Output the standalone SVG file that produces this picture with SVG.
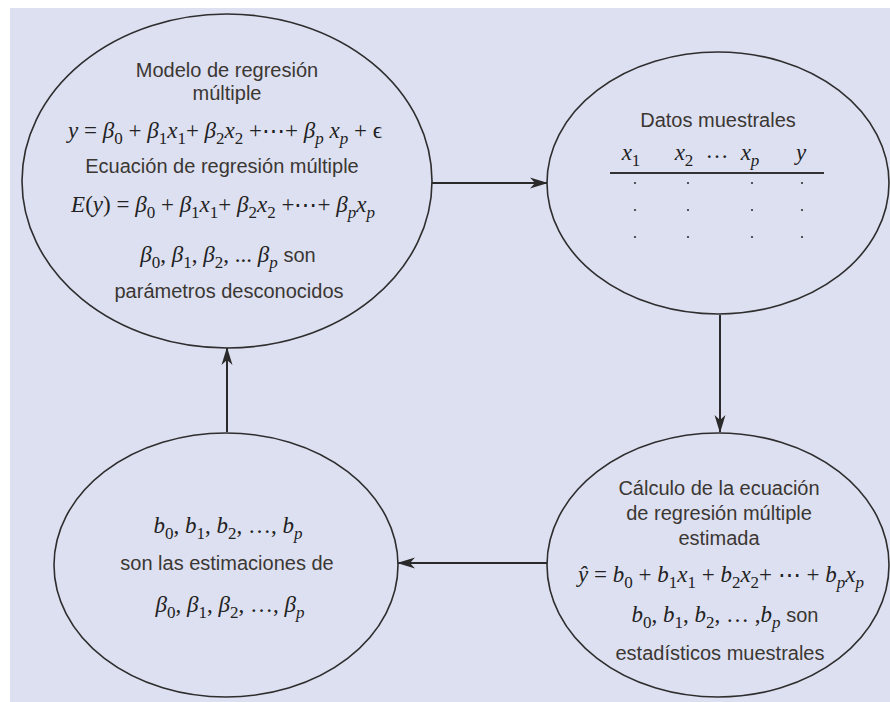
<svg xmlns="http://www.w3.org/2000/svg" width="890" height="702" viewBox="0 0 890 702">
<defs>
<marker id="arr" viewBox="0 0 18 12" refX="17" refY="6" markerWidth="18" markerHeight="12" markerUnits="userSpaceOnUse" orient="auto">
<path d="M0,0.5 L18,6 L0,11.5 L5,6 Z" fill="#2a2a2a"/>
</marker>
<style>
.node{fill:none;stroke:#2e2e2e;stroke-width:1.6}
.conn{stroke:#2a2a2a;stroke-width:2;fill:none;marker-end:url(#arr)}
.sans{font-family:"Liberation Sans","Open Sans",sans-serif;font-size:20px;fill:#3b3733;text-anchor:middle}
.math{font-family:"Liberation Serif","DejaVu Serif",serif;font-size:23px;fill:#222;text-anchor:middle}
.i{font-style:italic}
.sub{font-size:17px;baseline-shift:-6px}
.dot{fill:#333}
.son{font-family:"Liberation Sans","Open Sans",sans-serif;font-size:20px;fill:#3b3733}
</style>
</defs>
<rect x="0" y="0" width="890" height="702" fill="#ffffff"/>
<rect x="10" y="8" width="880" height="694" fill="#dde0f1"/>

<g id="connectors">
<line class="conn" x1="432" y1="183" x2="547" y2="183"/>
<line class="conn" x1="720" y1="315" x2="720" y2="432"/>
<line class="conn" x1="547" y1="563" x2="398" y2="563"/>
<line class="conn" x1="227" y1="432" x2="227" y2="348"/>
</g>

<g id="modelo">
<ellipse class="node" cx="227" cy="181" rx="205" ry="167"/>
<text class="sans" x="227" y="77">Modelo de regresión</text>
<text class="sans" x="227" y="100">múltiple</text>
<text class="math" x="225" y="138"><tspan class="i">y</tspan> = <tspan class="i">β</tspan><tspan class="sub">0</tspan> + <tspan class="i">β</tspan><tspan class="sub">1</tspan><tspan class="i">x</tspan><tspan class="sub">1</tspan>+ <tspan class="i">β</tspan><tspan class="sub">2</tspan><tspan class="i">x</tspan><tspan class="sub">2</tspan> +⋯+ <tspan class="i">β</tspan><tspan class="sub i">p</tspan> <tspan class="i">x</tspan><tspan class="sub i">p</tspan> + ϵ</text>
<text class="sans" x="222" y="173">Ecuación de regresión múltiple</text>
<text class="math" x="223" y="212"><tspan class="i">E</tspan>(<tspan class="i">y</tspan>) = <tspan class="i">β</tspan><tspan class="sub">0</tspan> + <tspan class="i">β</tspan><tspan class="sub">1</tspan><tspan class="i">x</tspan><tspan class="sub">1</tspan>+ <tspan class="i">β</tspan><tspan class="sub">2</tspan><tspan class="i">x</tspan><tspan class="sub">2</tspan> +⋯+ <tspan class="i">β</tspan><tspan class="sub i">p</tspan><tspan class="i">x</tspan><tspan class="sub i">p</tspan></text>
<text class="math" x="228" y="262"><tspan class="i">β</tspan><tspan class="sub">0</tspan>, <tspan class="i">β</tspan><tspan class="sub">1</tspan>, <tspan class="i">β</tspan><tspan class="sub">2</tspan>, ... <tspan class="i">β</tspan><tspan class="sub i">p</tspan> <tspan class="son">son</tspan></text>
<text class="sans" x="229" y="298">parámetros desconocidos</text>
</g>

<g id="datos">
<ellipse class="node" cx="718" cy="183" rx="171" ry="131"/>
<text class="sans" x="718" y="127">Datos muestrales</text>
<text class="math i" x="631" y="160">x<tspan class="sub" font-style="normal">1</tspan></text>
<text class="math i" x="684" y="160">x<tspan class="sub" font-style="normal">2</tspan></text>
<text class="math" x="717" y="158">…</text>
<text class="math i" x="750" y="160">x<tspan class="sub">p</tspan></text>
<text class="math i" x="801" y="160">y</text>
<line x1="610" y1="173" x2="824" y2="173" stroke="#333" stroke-width="2"/>
<g class="dot">
<circle cx="635" cy="183" r="1.1"/><circle cx="688" cy="183" r="1.1"/><circle cx="752" cy="183" r="1.1"/><circle cx="802" cy="183" r="1.1"/>
<circle cx="635" cy="210" r="1.1"/><circle cx="688" cy="210" r="1.1"/><circle cx="752" cy="210" r="1.1"/><circle cx="802" cy="210" r="1.1"/>
<circle cx="635" cy="237" r="1.1"/><circle cx="688" cy="237" r="1.1"/><circle cx="752" cy="237" r="1.1"/><circle cx="802" cy="237" r="1.1"/>
</g>
</g>

<g id="calculo">
<ellipse class="node" cx="718" cy="565" rx="171" ry="132"/>
<text class="sans" x="719" y="495">Cálculo de la ecuación</text>
<text class="sans" x="719" y="520">de regresión múltiple</text>
<text class="sans" x="719" y="545">estimada</text>
<text class="math" x="721" y="582"><tspan class="i">ŷ</tspan> = <tspan class="i">b</tspan><tspan class="sub">0</tspan> + <tspan class="i">b</tspan><tspan class="sub">1</tspan><tspan class="i">x</tspan><tspan class="sub">1</tspan> + <tspan class="i">b</tspan><tspan class="sub">2</tspan><tspan class="i">x</tspan><tspan class="sub">2</tspan>+ ⋯ + <tspan class="i">b</tspan><tspan class="sub i">p</tspan><tspan class="i">x</tspan><tspan class="sub i">p</tspan></text>
<text class="math" x="725" y="622"><tspan class="i">b</tspan><tspan class="sub">0</tspan>, <tspan class="i">b</tspan><tspan class="sub">1</tspan>, <tspan class="i">b</tspan><tspan class="sub">2</tspan>, … ,<tspan class="i">b</tspan><tspan class="sub i">p</tspan> <tspan class="son">son</tspan></text>
<text class="sans" x="720" y="660">estadísticos muestrales</text>
</g>

<g id="estimaciones">
<ellipse class="node" cx="226" cy="565" rx="172" ry="132"/>
<text class="math" x="228" y="533"><tspan class="i">b</tspan><tspan class="sub">0</tspan>, <tspan class="i">b</tspan><tspan class="sub">1</tspan>, <tspan class="i">b</tspan><tspan class="sub">2</tspan>, …, <tspan class="i">b</tspan><tspan class="sub i">p</tspan></text>
<text class="sans" x="227" y="570">son las estimaciones de</text>
<text class="math" x="230" y="612"><tspan class="i">β</tspan><tspan class="sub">0</tspan>, <tspan class="i">β</tspan><tspan class="sub">1</tspan>, <tspan class="i">β</tspan><tspan class="sub">2</tspan>, …, <tspan class="i">β</tspan><tspan class="sub i">p</tspan></text>
</g>
</svg>
